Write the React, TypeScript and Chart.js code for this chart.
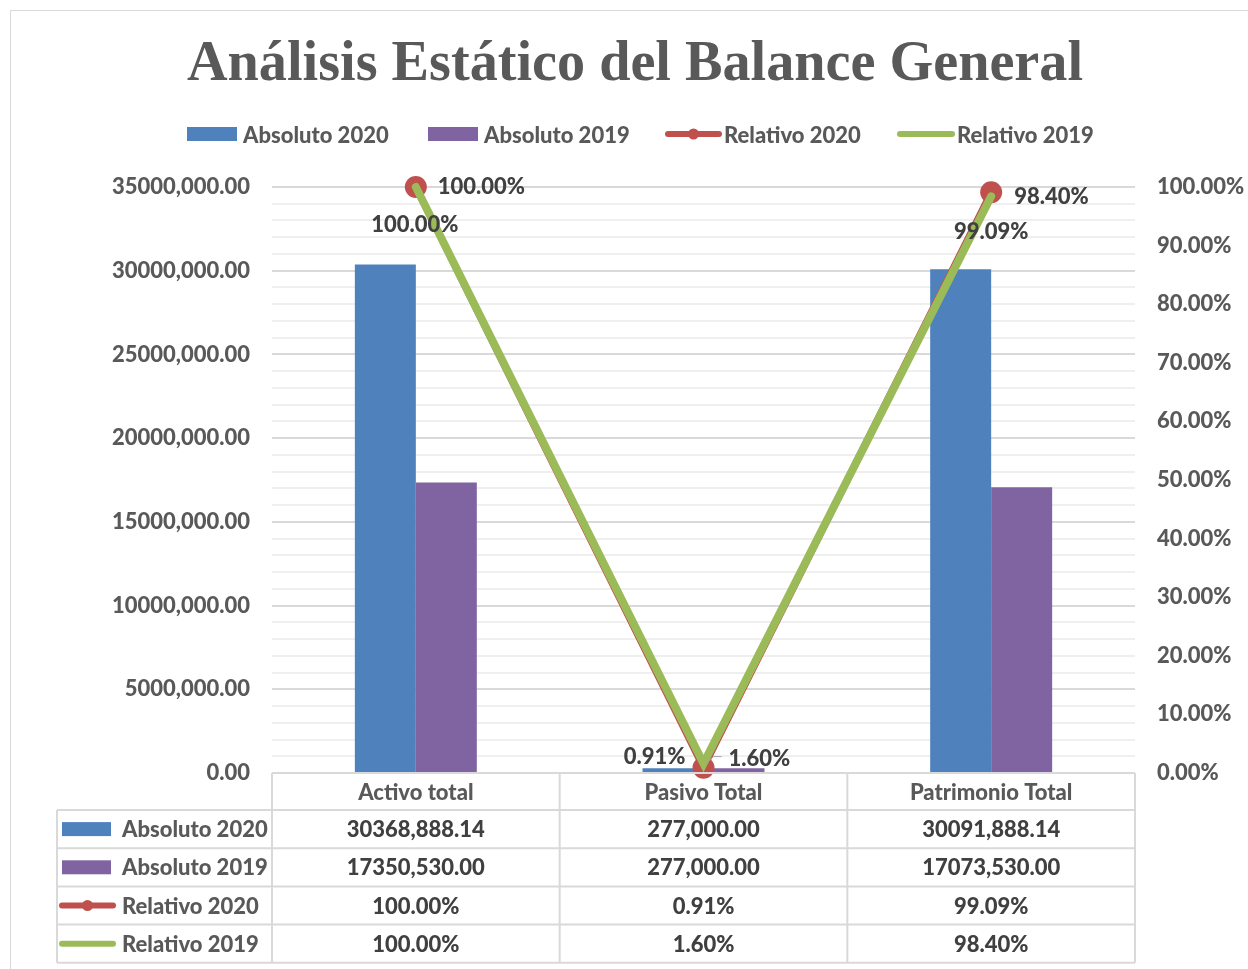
import React, { useEffect, useRef } from "react";
import { Chart, registerables } from "chart.js";
Chart.register(...registerables);

const titleText = "Análisis Estático del Balance General";
const categories = ["Activo total", "Pasivo Total", "Patrimonio Total"];
const seriesNames = ["Absoluto 2020", "Absoluto 2019", "Relativo 2020", "Relativo 2019"];
const absoluto2020 = [30368888.14, 277000, 30091888.14];
const absoluto2019 = [17350530.0, 277000, 17073530.0];
const relativo2020 = [1.0, 0.0091, 0.9909];
const relativo2019 = [1.0, 0.016, 0.984];
const leftAxisMax = 35000000;
const leftAxisLabelStep = 5000000;
const leftAxisGridStep = 1000000;
const rightAxisMax = 1;
const rightAxisStep = 0.1;

const BLUE = "#4F81BD";
const PURPLE = "#8064A2";
const RED = "#C0504D";
const GREEN = "#9BBB59";
const AXIS_TEXT = "#595959";
const DARK_TEXT = "#404040";
const GRID_MAJOR = "#D9D9D9";
const GRID_MINOR = "#EFEFEF";
const FONT = "Lato";
const WEIGHT = "900";

function fmtAbs(v: number): string {
  const [i, d] = v.toFixed(2).split(".");
  const n = i.length > 3 ? i.slice(0, -3) + "," + i.slice(-3) : i;
  return n + "." + d;
}
function fmtPct(v: number): string {
  return (v * 100).toFixed(2) + "%";
}

// label placement for line data labels: [dx, dy, align]
const redLabelPlacement: [number, number, CanvasTextAlign][] = [
  [22, 0, "left"],
  [-18, -11, "right"],
  [0, 40, "center"],
];
const greenLabelPlacement: [number, number, CanvasTextAlign][] = [
  [-1, 38, "center"],
  [25, -5, "left"],
  [23, 1, "left"],
];

function drawKey(ctx: CanvasRenderingContext2D, kind: number, x0: number, x1: number, y: number) {
  ctx.save();
  if (kind === 0 || kind === 1) {
    ctx.fillStyle = kind === 0 ? BLUE : PURPLE;
    ctx.fillRect(x0, y - 7, x1 - x0, 14);
  } else {
    ctx.strokeStyle = kind === 2 ? RED : GREEN;
    ctx.lineWidth = 6;
    ctx.lineCap = "round";
    ctx.beginPath();
    ctx.moveTo(x0 + 3, y);
    ctx.lineTo(x1 - 3, y);
    ctx.stroke();
    if (kind === 2) {
      ctx.fillStyle = RED;
      ctx.beginPath();
      ctx.arc((x0 + x1) / 2, y, 5.5, 0, Math.PI * 2);
      ctx.fill();
    }
  }
  ctx.restore();
}

const decorPlugin = {
  id: "decor",
  beforeDraw(chart: any) {
    const ctx: CanvasRenderingContext2D = chart.ctx;
    ctx.save();
    ctx.fillStyle = "#FFFFFF";
    ctx.fillRect(0, 0, chart.width, chart.height);
    ctx.strokeStyle = "#D9D9D9";
    ctx.lineWidth = 1;
    ctx.strokeRect(10.5, 10.5, chart.width + 20, chart.height + 20);
    // title
    ctx.font = `bold 56px "Liberation Serif"`;
    const w = ctx.measureText(titleText).width;
    const target = 896;
    ctx.translate(635, 80);
    ctx.scale(target / w, 1);
    ctx.fillStyle = AXIS_TEXT;
    ctx.textAlign = "center";
    ctx.textBaseline = "alphabetic";
    ctx.fillText(titleText, 0, 0);
    ctx.restore();

    // legend
    const legendItems = [
      { x0: 187, x1: 237, tx: 243 },
      { x0: 428, x1: 478, tx: 484 },
      { x0: 665, x1: 722, tx: 724 },
      { x0: 897, x1: 955, tx: 957 },
    ];
    ctx.save();
    ctx.font = `${WEIGHT} 22px ${FONT}`;
    ctx.fillStyle = AXIS_TEXT;
    ctx.textBaseline = "middle";
    ctx.textAlign = "left";
    legendItems.forEach((it, k) => {
      drawKey(ctx, k, it.x0, it.x1, 134);
      ctx.fillStyle = AXIS_TEXT;
      ctx.fillText(seriesNames[k], it.tx, 136);
    });
    ctx.restore();
  },
  afterDraw(chart: any) {
    const ctx: CanvasRenderingContext2D = chart.ctx;
    const area = chart.chartArea;
    const n = categories.length;
    const colW = (area.right - area.left) / n;
    const cols = Array.from({ length: n + 1 }, (_, k) => area.left + k * colW);
    const headerTop = area.bottom;
    const headerBottom = headerTop + 37;
    const rowH = 38.2;
    const rows = Array.from({ length: 5 }, (_, k) => headerBottom + k * rowH);
    const tableLeft = 57;

    // data labels for lines
    ctx.save();
    ctx.font = `${WEIGHT} 22px ${FONT}`;
    ctx.fillStyle = DARK_TEXT;
    ctx.textBaseline = "middle";
    const redMeta = chart.getDatasetMeta(2);
    const greenMeta = chart.getDatasetMeta(3);
    relativo2020.forEach((v, i) => {
      const p = redMeta.data[i];
      const [dx, dy, al] = redLabelPlacement[i];
      ctx.textAlign = al;
      ctx.fillText(fmtPct(v), p.x + dx, p.y + dy);
    });
    relativo2019.forEach((v, i) => {
      const p = greenMeta.data[i];
      const [dx, dy, al] = greenLabelPlacement[i];
      ctx.textAlign = al;
      ctx.fillText(fmtPct(v), p.x + dx, p.y + dy);
    });
    // leader line for the small 1.60% label
    const gp = greenMeta.data[1];
    ctx.strokeStyle = "#A6A6A6";
    ctx.lineWidth = 1;
    ctx.beginPath();
    ctx.moveTo(gp.x + 3, gp.y - 1);
    ctx.lineTo(gp.x + 10, gp.y - 7);
    ctx.lineTo(gp.x + 18, gp.y - 7);
    ctx.stroke();
    ctx.restore();

    // table grid
    ctx.save();
    ctx.strokeStyle = "#D9D9D9";
    ctx.lineWidth = 2;
    ctx.beginPath();
    ctx.moveTo(area.left, headerTop);
    ctx.lineTo(area.right, headerTop);
    rows.forEach((y) => {
      ctx.moveTo(tableLeft, y);
      ctx.lineTo(area.right, y);
    });
    ctx.moveTo(tableLeft, rows[0]);
    ctx.lineTo(tableLeft, rows[rows.length - 1]);
    cols.forEach((x) => {
      ctx.moveTo(x, headerTop);
      ctx.lineTo(x, rows[rows.length - 1]);
    });
    ctx.stroke();

    // table text
    const seriesValues = [
      absoluto2020.map(fmtAbs),
      absoluto2019.map(fmtAbs),
      relativo2020.map(fmtPct),
      relativo2019.map(fmtPct),
    ];
    ctx.font = `${WEIGHT} 22px ${FONT}`;
    ctx.textBaseline = "middle";
    seriesValues.forEach((vals, r) => {
      const yc = (rows[r] + rows[r + 1]) / 2 + 1;
      drawKey(ctx, r, r < 2 ? 62 : 59, r < 2 ? 111 : 116, yc - 1);
      ctx.fillStyle = AXIS_TEXT;
      ctx.textAlign = "left";
      ctx.fillText(seriesNames[r], 122, yc);
      ctx.fillStyle = DARK_TEXT;
      ctx.textAlign = "center";
      vals.forEach((t, c) => {
        ctx.fillText(t, (cols[c] + cols[c + 1]) / 2, yc);
      });
    });
    ctx.restore();
  },
};

export default function App() {
  const ref = useRef<HTMLCanvasElement>(null);
  useEffect(() => {
    document.body.style.margin = "0";
    const tickFont = { family: FONT, size: 22, weight: WEIGHT as any };
    const chart = new Chart(ref.current!, {
      type: "bar",
      data: {
        labels: categories,
        datasets: [
          {
            type: "bar",
            label: seriesNames[0],
            data: absoluto2020,
            backgroundColor: BLUE,
            yAxisID: "y",
            order: 3,
            categoryPercentage: 0.424,
            barPercentage: 1,
          },
          {
            type: "bar",
            label: seriesNames[1],
            data: absoluto2019,
            backgroundColor: PURPLE,
            yAxisID: "y",
            order: 4,
            categoryPercentage: 0.424,
            barPercentage: 1,
          },
          {
            type: "line",
            label: seriesNames[2],
            data: relativo2020,
            borderColor: RED,
            backgroundColor: RED,
            borderWidth: 7,
            pointRadius: 11,
            pointBorderWidth: 0,
            pointBackgroundColor: RED,
            yAxisID: "y1",
            order: 2,
            clip: false,
          },
          {
            type: "line",
            label: seriesNames[3],
            data: relativo2019,
            borderColor: GREEN,
            backgroundColor: GREEN,
            borderWidth: 8,
            borderCapStyle: "round",
            pointRadius: 0,
            yAxisID: "y1",
            order: 1,
            clip: false,
          },
        ] as any,
      },
      options: {
        responsive: false,
        animation: false,
        layout: { padding: { top: 187, bottom: 159, left: 0, right: 0 } },
        plugins: {
          legend: { display: false },
          title: { display: false },
          tooltip: { enabled: false },
        },
        scales: {
          x: {
            grid: { display: false, drawTicks: false },
            border: { display: false },
            ticks: { font: tickFont, color: AXIS_TEXT, padding: 7 },
            afterFit: (s: any) => {
              s.height = 37;
            },
          },
          y: {
            position: "left",
            min: 0,
            max: leftAxisMax,
            border: { display: false },
            grid: {
              drawTicks: false,
              lineWidth: 2,
              color: (c: any) =>
                c.tick && Math.round(c.tick.value) % leftAxisLabelStep === 0 ? GRID_MAJOR : GRID_MINOR,
            },
            ticks: {
              stepSize: leftAxisGridStep,
              autoSkip: false,
              font: tickFont,
              color: AXIS_TEXT,
              padding: 22,
              callback: (v: any) => (Math.round(v) % leftAxisLabelStep === 0 ? fmtAbs(Number(v)) : ""),
            },
            afterFit: (s: any) => {
              s.width = 272;
            },
          },
          y1: {
            position: "right",
            min: 0,
            max: rightAxisMax,
            border: { display: false },
            grid: { display: false, drawTicks: false },
            ticks: {
              stepSize: rightAxisStep,
              autoSkip: false,
              font: tickFont,
              color: AXIS_TEXT,
              padding: 22,
              callback: (v: any) => fmtPct(Number(v)),
            },
            afterFit: (s: any) => {
              s.width = 113;
            },
          },
        },
      },
      plugins: [decorPlugin],
    });
    return () => chart.destroy();
  }, []);
  return (
    <div style={{ width: 1248, height: 969 }}>
      <canvas ref={ref} width={1248} height={969} style={{ display: "block" }} />
    </div>
  );
}
